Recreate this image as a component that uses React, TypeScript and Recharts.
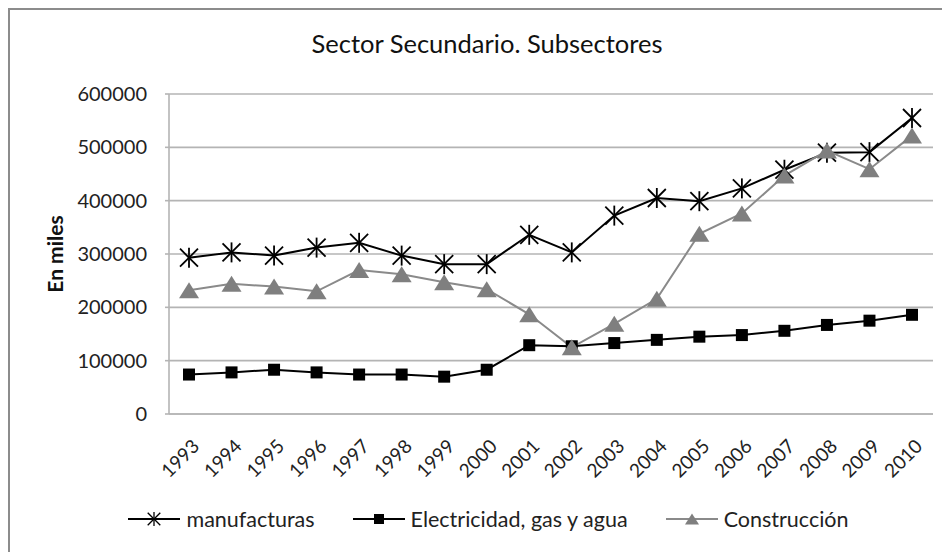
import React from 'react';
import { LineChart, Line, XAxis, YAxis, CartesianGrid, Legend } from 'recharts';

const years = ['1993', '1994', '1995', '1996', '1997', '1998', '1999', '2000', '2001', '2002', '2003', '2004', '2005', '2006', '2007', '2008', '2009', '2010'];
const manufacturas = [293000, 303000, 297000, 312000, 321000, 297000, 281000, 281000, 336000, 303000, 372000, 405000, 399000, 423000, 458000, 490000, 491000, 555000];
const electricidad = [74000, 78000, 83000, 78000, 74000, 74000, 70000, 83000, 129000, 127000, 133000, 139000, 145000, 148000, 156000, 167000, 175000, 186000];
const construccion = [232000, 244000, 239000, 230000, 270000, 262000, 247000, 234000, 187000, 125000, 169000, 216000, 338000, 376000, 447000, 494000, 459000, 522000];
const yTicks = [0, 100000, 200000, 300000, 400000, 500000, 600000];

const data = years.map((y, i) => ({
  year: y,
  manufacturas: manufacturas[i],
  electricidad: electricidad[i],
  construccion: construccion[i],
}));

const FONT = 'Lato, "Open Sans", sans-serif';
const GRID = '#b4b4b4';
const GRAY = '#8a8a8a';

const Asterisk = ({ cx, cy, r = 10, sw = 1.8 }: any) => (
  <g>
    <line x1={cx} y1={cy - r} x2={cx} y2={cy + r} stroke="#000" strokeWidth={sw} />
    <line x1={cx - r * 0.9} y1={cy - r * 0.9} x2={cx + r * 0.9} y2={cy + r * 0.9} stroke="#000" strokeWidth={sw} />
    <line x1={cx - r * 0.9} y1={cy + r * 0.9} x2={cx + r * 0.9} y2={cy - r * 0.9} stroke="#000" strokeWidth={sw} />
  </g>
);

const Square = ({ cx, cy, s = 12 }: any) => (
  <rect x={cx - s / 2} y={cy - s / 2} width={s} height={s} fill="#000" />
);

const Triangle = ({ cx, cy, w = 20, h = 16 }: any) => (
  <polygon points={`${cx},${cy - h / 2} ${cx + w / 2},${cy + h / 2} ${cx - w / 2},${cy + h / 2}`} fill="#7f7f7f" />
);

const items = [
  { label: 'manufacturas', color: '#000', marker: (cx: number, cy: number) => <Asterisk cx={cx} cy={cy} r={7} sw={1.3} /> },
  { label: 'Electricidad, gas y agua', color: '#000', marker: (cx: number, cy: number) => <Square cx={cx} cy={cy} s={10} /> },
  { label: 'Construcción', color: GRAY, marker: (cx: number, cy: number) => <Triangle cx={cx} cy={cy} w={14} h={11} /> },
];

const LegendContent = () => (
  <div style={{ display: 'flex', justifyContent: 'center', paddingLeft: 17, gap: 38, fontFamily: FONT, fontSize: 21.5, color: '#222', alignItems: 'center' }}>
    {items.map((it) => (
      <div key={it.label} style={{ display: 'flex', alignItems: 'center', gap: 6 }}>
        <svg width={52} height={20}>
          <line x1={0} y1={10} x2={52} y2={10} stroke={it.color} strokeWidth={2.2} />
          {it.marker(26, 10)}
        </svg>
        <span>{it.label}</span>
      </div>
    ))}
  </div>
);

export default function App() {
  return (
    <div style={{ position: 'relative', width: 942, height: 544, borderTop: '2px solid #8c8c8c', borderLeft: '2px solid #8c8c8c', background: '#fff' }}>
      <div style={{ position: 'absolute', top: 18, left: 0, width: 940, paddingLeft: 14, boxSizing: 'border-box', textAlign: 'center', fontFamily: FONT, fontSize: 25.5, color: '#111' }}>
        Sector Secundario. Subsectores
      </div>
      <LineChart width={940} height={542} data={data} margin={{ top: 84, right: 17, left: 0, bottom: 68 }}>
        <CartesianGrid horizontal vertical={false} stroke={GRID} strokeWidth={1.6} />
        <XAxis
          dataKey="year"
          interval={0}
          height={70}
          padding={{ left: 20, right: 21 }}
          axisLine={{ stroke: GRID, strokeWidth: 1.6 }}
          tickLine={false}
          angle={-45}
          textAnchor="end"
          tickMargin={6}
          tick={{ fontFamily: FONT, fontSize: 19, fill: '#222', dx: 2, dy: 12 }}
        />
        <YAxis
          width={159}
          domain={[0, 600000]}
          ticks={yTicks}
          interval={0}
          axisLine={{ stroke: GRID, strokeWidth: 1.6 }}
          tickLine={{ stroke: GRID, strokeWidth: 1.6 }}
          tickSize={4}
          tickMargin={18}
          tick={{ fontFamily: FONT, fontSize: 20, fill: '#222' }}
          label={{ value: 'En miles', angle: -90, position: 'insideLeft', offset: 46, style: { fontFamily: FONT, fontSize: 21, fontWeight: 700, fill: '#111', textAnchor: 'middle' } }}
        />
        <Legend layout="horizontal" verticalAlign="middle" align="center" wrapperStyle={{ top: 496, left: 0, width: 940 }} content={<LegendContent />} />
        <Line
          dataKey="manufacturas"
          name="manufacturas"
          stroke="#000"
          strokeWidth={2}
          isAnimationActive={false}
          dot={(p: any) => <Asterisk key={`a${p.index}`} cx={p.cx} cy={p.cy} />}
          activeDot={false}
        />
        <Line
          dataKey="electricidad"
          name="Electricidad, gas y agua"
          stroke="#000"
          strokeWidth={2}
          isAnimationActive={false}
          dot={(p: any) => <Square key={`s${p.index}`} cx={p.cx} cy={p.cy} />}
          activeDot={false}
        />
        <Line
          dataKey="construccion"
          name="Construcción"
          stroke={GRAY}
          strokeWidth={2}
          isAnimationActive={false}
          dot={(p: any) => <Triangle key={`t${p.index}`} cx={p.cx} cy={p.cy} />}
          activeDot={false}
        />
      </LineChart>
    </div>
  );
}
